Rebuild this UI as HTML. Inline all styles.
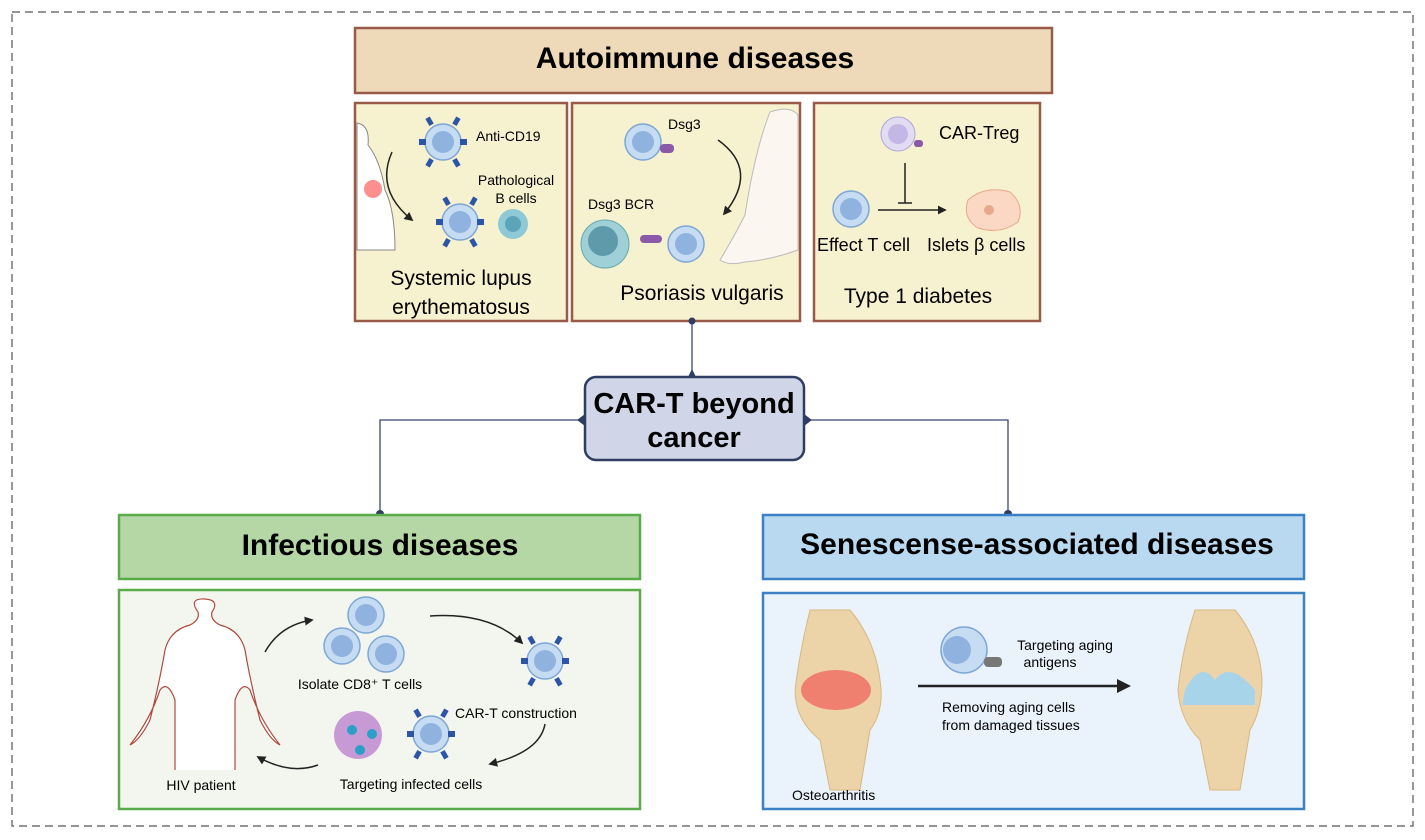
<!DOCTYPE html>
<html><head><meta charset="utf-8"><style>
html,body{margin:0;padding:0;background:#fff;}
svg{display:block;font-family:"Liberation Sans",sans-serif;}
</style></head><body>
<svg width="1425" height="840" viewBox="0 0 1425 840" xmlns="http://www.w3.org/2000/svg">
<defs>
<marker id="ah" viewBox="0 0 10 10" refX="8" refY="5" markerWidth="6" markerHeight="6" orient="auto"><path d="M0,0 L10,5 L0,10 z" fill="#222"/></marker>
<g id="cell"><circle r="18" fill="#c5dcf2" stroke="#7ea6d6" stroke-width="1.5"/><circle r="11" fill="#8fb2de"/></g>
<g id="car"><use href="#cell"/>
<g fill="#2c55a8"><rect x="-24" y="-3" width="7" height="6"/><rect x="17" y="-3" width="7" height="6"/>
<rect x="-16" y="-25" width="5" height="8" transform="rotate(-30 -13 -21)"/><rect x="11" y="-25" width="5" height="8" transform="rotate(30 13 -21)"/>
<rect x="-16" y="17" width="5" height="8" transform="rotate(30 -13 21)"/><rect x="11" y="17" width="5" height="8" transform="rotate(-30 13 21)"/></g></g>
</defs>
<rect x="12" y="12" width="1401" height="814" fill="none" stroke="#555" stroke-width="1.2" stroke-dasharray="8,5"/>

<!-- Autoimmune -->
<rect x="355" y="28" width="697" height="65" fill="#eed9b8" stroke="#9a5a48" stroke-width="2.5"/>
<text x="695" y="68" font-size="30" font-weight="bold" text-anchor="middle">Autoimmune diseases</text>
<rect x="355" y="103" width="212" height="218" fill="#f6f1cf" stroke="#9a5a48" stroke-width="2.5"/>
<rect x="572" y="103" width="228" height="218" fill="#f6f1cf" stroke="#9a5a48" stroke-width="2.5"/>
<rect x="814" y="103" width="226" height="218" fill="#f6f1cf" stroke="#9a5a48" stroke-width="2.5"/>

<!-- panel A -->
<path d="M357,123 Q370,125 368,145 Q380,160 385,190 Q395,210 395,250 L357,250 z" fill="#fff" stroke="#888" stroke-width="1"/>
<circle cx="373" cy="189" r="9" fill="#f44" opacity="0.6"/>
<use href="#car" x="443" y="142"/><use href="#car" x="460" y="222"/>
<circle cx="513" cy="224" r="15" fill="#8fc9d6"/><circle cx="513" cy="224" r="8" fill="#5aa6b8"/>
<text x="476" y="141" font-size="14">Anti-CD19</text>
<text x="516" y="185" font-size="14" text-anchor="middle">Pathological</text>
<text x="516" y="203" font-size="14" text-anchor="middle">B cells</text>
<path d="M392,152 Q375,190 412,220" fill="none" stroke="#222" stroke-width="1.5" marker-end="url(#ah)"/>
<text x="461" y="285" font-size="21" text-anchor="middle">Systemic lupus</text>
<text x="461" y="314" font-size="21" text-anchor="middle">erythematosus</text>

<!-- panel B -->
<use href="#cell" x="643" y="142"/><rect x="660" y="144" width="14" height="9" rx="4" fill="#8a5aa8"/>
<text x="668" y="129" font-size="14">Dsg3</text>
<circle cx="605" cy="244" r="24" fill="#9fd0d8" stroke="#6aa"/><circle cx="603" cy="241" r="15" fill="#5e9aaa"/>
<rect x="640" y="235" width="22" height="8" rx="4" fill="#8a5aa8"/>
<use href="#cell" x="686" y="244"/>
<text x="588" y="209" font-size="14">Dsg3 BCR</text>
<path d="M718,140 Q760,170 724,214" fill="none" stroke="#222" stroke-width="1.5" marker-end="url(#ah)"/>
<path d="M770,112 Q790,105 798,115 L798,250 Q770,260 745,262 Q728,266 720,260 Q735,235 745,215 Q755,150 770,112 z" fill="#fbf6f0" stroke="#bbb"/>
<text x="702" y="300" font-size="21" text-anchor="middle">Psoriasis vulgaris</text>

<!-- panel C -->
<circle cx="898" cy="134" r="17" fill="#e1dcf2" stroke="#b0a5d8"/><circle cx="898" cy="134" r="10" fill="#c3b7e6"/>
<rect x="914" y="140" width="9" height="7" rx="3" fill="#8a5aa8"/>
<text x="939" y="139" font-size="18">CAR-Treg</text>
<line x1="905" y1="163" x2="905" y2="203" stroke="#222" stroke-width="1.5"/><line x1="898" y1="203" x2="912" y2="203" stroke="#222" stroke-width="1.5"/>
<use href="#cell" x="851" y="209"/>
<line x1="878" y1="210" x2="945" y2="210" stroke="#222" stroke-width="1.5" marker-end="url(#ah)"/>
<path d="M968,200 Q985,185 1010,192 Q1025,205 1018,222 Q1000,235 978,228 Q962,218 968,200 z" fill="#fbd8c3" stroke="#e8a88c"/>
<circle cx="989" cy="210" r="5" fill="#e8a88c"/>
<text x="817" y="251" font-size="18">Effect T cell</text>
<text x="927" y="251" font-size="18">Islets β cells</text>
<text x="918" y="303" font-size="21" text-anchor="middle">Type 1 diabetes</text>

<!-- connectors -->
<g stroke="#3a4670" stroke-width="1.3" fill="none">
<line x1="692" y1="321" x2="692" y2="376"/>
<polyline points="585,420 380,420 380,514"/>
<polyline points="804,420 1008,420 1008,514"/>
</g>
<circle cx="692" cy="321" r="3.5" fill="#2f3d63"/>
<circle cx="380" cy="514" r="4" fill="#2f3d63"/><circle cx="1008" cy="514" r="4" fill="#2f3d63"/>
<rect x="585" y="377" width="219" height="83" rx="11" fill="#d0d6e8" stroke="#2f3d63" stroke-width="2.5"/>
<path d="M688,377 L692,369 L696,377 z M585,414 L577,420 L585,426 z M804,414 L812,420 L804,426 z" fill="#2f3d63"/>
<text x="694" y="413" font-size="29" font-weight="bold" text-anchor="middle">CAR-T beyond</text>
<text x="694" y="447" font-size="29" font-weight="bold" text-anchor="middle">cancer</text>

<!-- Infectious -->
<rect x="119" y="515" width="521" height="64" fill="#b5d6a5" stroke="#5aab49" stroke-width="2.5"/>
<text x="380" y="555" font-size="30" font-weight="bold" text-anchor="middle">Infectious diseases</text>
<rect x="119" y="590" width="521" height="219" fill="#f3f6ef" stroke="#5aab49" stroke-width="2.5"/>
<path d="M175,770 L175,700 Q168,680 160,690 Q150,720 130,745 Q140,740 150,720 Q160,680 165,650 Q170,630 190,625 Q200,620 198,612 Q188,598 205,599 Q220,600 212,612 Q210,620 220,625 Q240,630 245,650 Q250,680 260,720 Q270,740 280,745 Q260,720 250,690 Q242,680 235,700 L235,770" fill="#fff" stroke="#b04a3e" stroke-width="1.2"/>
<text x="201" y="790" font-size="14" text-anchor="middle">HIV patient</text>
<use href="#cell" x="366" y="615"/><use href="#cell" x="342" y="646"/><use href="#cell" x="386" y="654"/>
<text x="360" y="689" font-size="14" text-anchor="middle">Isolate CD8⁺ T cells</text>
<use href="#car" x="545" y="661"/><use href="#car" x="431" y="734"/>
<text x="455" y="718" font-size="14">CAR-T construction</text>
<circle cx="358" cy="735" r="24" fill="#c79ad6"/><circle cx="352" cy="730" r="5" fill="#2aa0c8"/><circle cx="372" cy="734" r="5" fill="#2aa0c8"/><circle cx="360" cy="750" r="5" fill="#2aa0c8"/>
<text x="411" y="789" font-size="14" text-anchor="middle">Targeting infected cells</text>
<g fill="none" stroke="#222" stroke-width="1.5" marker-end="url(#ah)">
<path d="M265,652 Q280,625 312,620"/>
<path d="M430,616 Q490,612 522,643"/>
<path d="M545,724 Q540,752 490,764"/>
<path d="M318,765 Q290,775 258,757"/>
</g>

<!-- Senescence -->
<rect x="763" y="515" width="541" height="64" fill="#b9d9f1" stroke="#3b82c4" stroke-width="2.5"/>
<text x="1037" y="554" font-size="30" font-weight="bold" text-anchor="middle">Senescense-associated diseases</text>
<rect x="763" y="593" width="541" height="216" fill="#eaf3fc" stroke="#3b82c4" stroke-width="2.5"/>
<path d="M810,610 L850,610 Q875,640 880,680 Q885,710 870,730 L860,790 L830,790 L820,740 Q795,720 795,690 Q800,650 810,610 z" fill="#ecd3a8" stroke="#d8b880"/>
<ellipse cx="836" cy="690" rx="35" ry="20" fill="#f24a4a" opacity="0.6"/>
<path d="M1195,610 L1235,610 Q1260,640 1262,680 Q1262,710 1250,730 L1240,790 L1210,790 L1200,740 Q1180,720 1178,690 Q1182,650 1195,610 z" fill="#ecd3a8" stroke="#d8b880"/>
<path d="M1185,690 Q1200,660 1215,680 Q1230,660 1255,690 L1255,705 L1182,705 z" fill="#a8d4ea"/>
<text x="792" y="800" font-size="14">Osteoarthritis</text>
<circle cx="964" cy="650" r="23" fill="#c5dcf2" stroke="#7ea6d6" stroke-width="1.5"/><circle cx="957" cy="650" r="14" fill="#8fb2de"/>
<rect x="984" y="657" width="18" height="10" rx="4" fill="#777"/>
<text x="1065" y="650" font-size="14" text-anchor="middle">Targeting aging</text>
<text x="1050" y="667" font-size="14" text-anchor="middle">antigens</text>
<line x1="918" y1="686" x2="1125" y2="686" stroke="#222" stroke-width="2.5"/>
<path d="M1117,679 L1131,686 L1117,693 z" fill="#222"/>
<text x="942" y="712" font-size="14">Removing aging cells</text>
<text x="942" y="730" font-size="14">from damaged tissues</text>
</svg>
</body></html>
